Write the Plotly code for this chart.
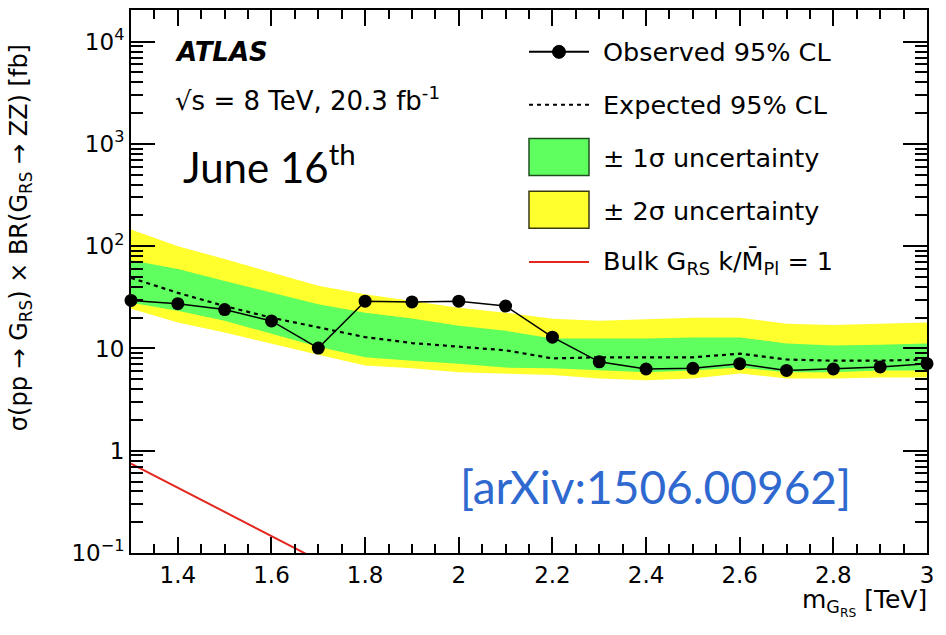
import plotly.graph_objects as go

# ---------------- data ----------------
mass = [1.3, 1.4, 1.5, 1.6, 1.7, 1.8, 1.9, 2.0, 2.1, 2.2, 2.3, 2.4, 2.5, 2.6, 2.7, 2.8, 2.9, 3.0]
observed = [29.5, 27.4, 24.0, 18.6, 10.1, 29.0, 28.5, 29.0, 26.0, 12.9, 7.4, 6.3, 6.4, 7.1, 6.1, 6.3, 6.6, 7.1]
expected = [49.0, 35.0, 26.0, 20.0, 16.1, 12.9, 11.3, 10.5, 9.6, 8.0, 8.2, 8.2, 8.2, 8.9, 7.8, 7.6, 7.6, 7.8]
one_sigma_up = [73, 60, 45.8, 35, 27, 22.4, 19.6, 16.7, 14.9, 12.5, 12.5, 12.5, 12.8, 12.8, 11.2, 10.7, 10.9, 11.2]
one_sigma_lo = [28, 23.4, 18.7, 14, 10.4, 8.2, 7.6, 7.1, 6.5, 6.4, 6.1, 5.85, 6.1, 6.5, 5.85, 5.85, 6.1, 6.1]
two_sigma_up = [146, 100, 75, 55, 41, 34, 29, 25, 22.4, 19.5, 18.7, 19.5, 20, 20, 17.5, 17, 17.5, 17.9]
two_sigma_lo = [24.5, 17.9, 14.3, 11.2, 8.7, 6.8, 6.4, 5.85, 5.7, 5.5, 5.1, 4.9, 5.1, 5.7, 5.1, 5.1, 5.2, 5.2]
theory_mass = [1.3, 1.4, 1.5, 1.6, 1.7, 1.8]
theory_xsec = [0.75, 0.435, 0.25, 0.146, 0.085, 0.05]

y_tickvals = [0.1, 1, 10, 100, 1000, 10000]
y_ticktext = ["10<sup>\u22121</sup>", "1", "10", "10<sup>2</sup>", "10<sup>3</sup>", "10<sup>4</sup>"]
y_minor = [k * 10.0 ** e for e in range(-1, 5) for k in range(2, 10)]

# ---------------- layout helpers (pixel -> paper) ----------------
W, H = 946, 635
L, R, T, B = 131, 927, 8, 553


def px(x):
    return (x - L) / (R - L)


def py(y):
    return (B - y) / (B - T)


HELV = "DejaVu Sans, Liberation Sans, Arial, sans-serif"
GILL = "Lato, Noto Sans, sans-serif"

YELLOW = "#ffff2e"
GREEN = "#5eff5e"
RED = "#e3261e"

fig = go.Figure()

# 2 sigma band
fig.add_trace(go.Scatter(
    x=mass + mass[::-1], y=two_sigma_up + two_sigma_lo[::-1],
    fill="toself", fillcolor=YELLOW, line=dict(width=0), mode="lines",
    hoverinfo="skip", showlegend=False))
# 1 sigma band
fig.add_trace(go.Scatter(
    x=mass + mass[::-1], y=one_sigma_up + one_sigma_lo[::-1],
    fill="toself", fillcolor=GREEN, line=dict(width=0), mode="lines",
    hoverinfo="skip", showlegend=False))
# expected
fig.add_trace(go.Scatter(
    x=mass, y=expected, mode="lines",
    line=dict(color="black", width=2.2, dash="4px,4px"), showlegend=False))
# theory
fig.add_trace(go.Scatter(
    x=theory_mass, y=theory_xsec, mode="lines",
    line=dict(color=RED, width=2), showlegend=False))
# observed
fig.add_trace(go.Scatter(
    x=mass, y=observed, mode="lines+markers",
    line=dict(color="black", width=1.5),
    marker=dict(color="black", size=13, symbol="circle"),
    cliponaxis=False, showlegend=False))

# ---------------- legend (drawn manually) ----------------
shapes = []
lx0, lx1 = px(529), px(589)
shapes.append(dict(type="line", xref="paper", yref="paper", x0=lx0, x1=lx1,
                   y0=py(50), y1=py(50), line=dict(color="black", width=2)))
r = 6.5
shapes.append(dict(type="circle", xref="paper", yref="paper",
                   x0=px(559 - r), x1=px(559 + r), y0=py(50 + r), y1=py(50 - r),
                   fillcolor="black", line=dict(color="black", width=1)))
shapes.append(dict(type="line", xref="paper", yref="paper", x0=lx0, x1=lx1,
                   y0=py(103), y1=py(103), line=dict(color="black", width=2, dash="4px,4px")))
shapes.append(dict(type="rect", xref="paper", yref="paper", x0=lx0, x1=lx1,
                   y0=py(174), y1=py(137), fillcolor=GREEN,
                   line=dict(color="#1f4f1f", width=1.5)))
shapes.append(dict(type="rect", xref="paper", yref="paper", x0=lx0, x1=lx1,
                   y0=py(227), y1=py(190), fillcolor=YELLOW,
                   line=dict(color="#3a3a10", width=1.5)))
shapes.append(dict(type="line", xref="paper", yref="paper", x0=lx0, x1=lx1,
                   y0=py(261), y1=py(261), line=dict(color=RED, width=2)))

legend_texts = [
    ("Observed 95% CL", 50),
    ("Expected 95% CL", 103),
    ("\u00b1 1\u03c3 uncertainty", 157),
    ("\u00b1 2\u03c3 uncertainty", 210),
    ("Bulk G<sub>RS</sub> k/M\u0304<sub>Pl</sub> = 1", 261),
]

annotations = []
for txt, yy in legend_texts:
    annotations.append(dict(text=txt, xref="paper", yref="paper", x=px(601), y=py(yy),
                            xanchor="left", yanchor="middle", showarrow=False,
                            font=dict(family=HELV, size=25.5, color="black")))

annotations += [
    dict(text="<b><i>ATLAS</i></b>", xref="paper", yref="paper", x=px(173), y=py(50),
         xanchor="left", yanchor="middle", showarrow=False,
         font=dict(family=HELV, size=26, color="black")),
    dict(text="\u221As = 8 TeV, 20.3 fb<sup>-1</sup>", xref="paper", yref="paper",
         x=px(173), y=py(97), xanchor="left", yanchor="middle", showarrow=False,
         font=dict(family=HELV, size=26, color="black")),
    dict(text="June 16<sup>th</sup>", xref="paper", yref="paper",
         x=px(181), y=py(163), xanchor="left", yanchor="middle", showarrow=False,
         font=dict(family=GILL, size=42, color="black")),
    dict(text="[arXiv:1506.00962]", xref="paper", yref="paper",
         x=px(458), y=py(486), xanchor="left", yanchor="middle", showarrow=False,
         font=dict(family=GILL, size=46, color="#2f68cf")),
    dict(text="\u03c3(pp \u2192 G<sub>RS</sub>) \u00d7 BR(G<sub>RS</sub> \u2192 ZZ) [fb]",
         xref="paper", yref="paper", x=px(20), y=py(237), xanchor="center", yanchor="middle",
         textangle=-90, showarrow=False, font=dict(family=HELV, size=24, color="black")),
    dict(text="m<sub>G<sub>RS</sub></sub> [TeV]", xref="paper", yref="paper",
         x=px(929), y=py(603), xanchor="right", yanchor="middle", showarrow=False,
         font=dict(family=HELV, size=25, color="black")),
]

fig.update_layout(
    width=W, height=H,
    margin=dict(l=L, r=W - R, t=T, b=H - B),
    paper_bgcolor="white", plot_bgcolor="white",
    showlegend=False,
    shapes=shapes, annotations=annotations,
    xaxis=dict(
        range=[1.3, 3.0], tick0=0, dtick=0.2, showgrid=False, zeroline=False,
        ticks="inside", ticklen=16, tickwidth=1.5, tickcolor="black",
        showline=True, linecolor="black", linewidth=2, mirror="ticks",
        tickfont=dict(family=HELV, size=23, color="black"),
        minor=dict(dtick=0.05, ticks="inside", ticklen=9, tickwidth=1.5, tickcolor="black", showgrid=False),
    ),
    yaxis=dict(
        type="log", range=[-1, 4.31], tickvals=y_tickvals, ticktext=y_ticktext,
        showgrid=False, zeroline=False,
        ticks="inside", ticklen=24, tickwidth=1.5, tickcolor="black",
        showline=True, linecolor="black", linewidth=2, mirror="ticks",
        tickfont=dict(family=HELV, size=23, color="black"),
        minor=dict(tickvals=y_minor, ticks="inside", ticklen=12, tickwidth=1.5, tickcolor="black", showgrid=False),
    ),
)

fig.write_html("out.html")
